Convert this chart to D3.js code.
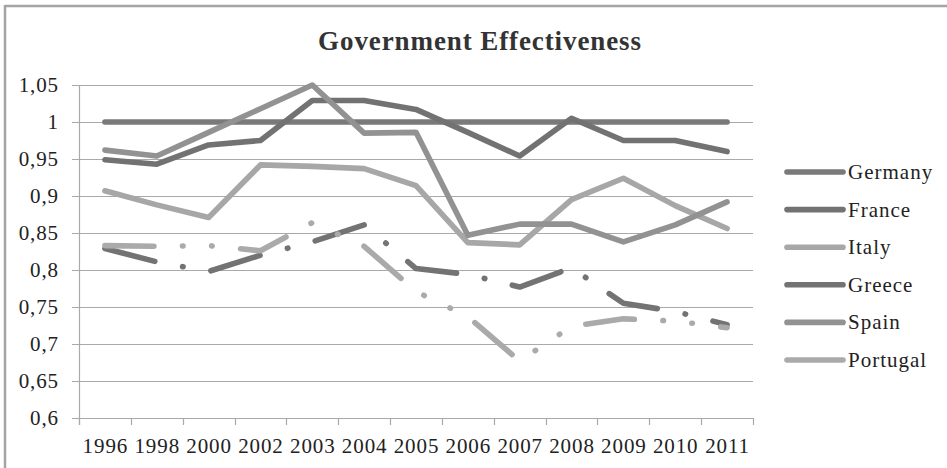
<!DOCTYPE html>
<html>
<head>
<meta charset="utf-8">
<script src="https://cdn.jsdelivr.net/npm/d3@7"></script>
<style>
  html, body { margin: 0; padding: 0; background: #fff; }
  svg { display: block; }
  text { font-family: "Liberation Serif", "Times New Roman", serif; fill: #222; }
</style>
</head>
<body>
<svg id="chart" width="947" height="468"></svg>
<script>
// Government Effectiveness index, selected EU countries
const years = ["1996", "1998", "2000", "2002", "2003", "2004", "2005", "2006", "2007", "2008", "2009", "2010", "2011"];
const germany  = [1, 1, 1, 1, 1, 1, 1, 1, 1, 1, 1, 1, 1];
const france   = [0.949, 0.943, 0.969, 0.975, 1.029, 1.029, 1.017, 0.986, 0.954, 1.005, 0.975, 0.975, 0.960];
const italy    = [0.907, 0.888, 0.871, 0.942, 0.940, 0.937, 0.914, 0.837, 0.834, 0.895, 0.924, 0.887, 0.856];
const greece   = [0.829, 0.811, 0.798, 0.820, 0.838, 0.861, 0.802, 0.794, 0.777, 0.803, 0.755, 0.744, 0.726];
const spain    = [0.962, 0.954, 0.986, 1.018, 1.050, 0.985, 0.986, 0.847, 0.862, 0.862, 0.838, 0.861, 0.892];
const portugal = [0.833, 0.832, 0.833, 0.826, 0.864, 0.832, 0.771, 0.737, 0.677, 0.724, 0.734, 0.731, 0.722];
const yTicks = [0.6, 0.65, 0.7, 0.75, 0.8, 0.85, 0.9, 0.95, 1, 1.05];

const seriesNames = ["Germany", "France", "Italy", "Greece", "Spain", "Portugal"];
const seriesValues = [germany, france, italy, greece, spain, portugal];
const seriesColors = ["#7a7a7a", "#727272", "#a7a7a7", "#737373", "#929292", "#aaaaaa"];
// long dash-dot for Greece, long dash-dot-dot for Portugal
const seriesDash = [null, null, null, "51.5 28.3 0.5 28.3", null, "49 28.6 0.5 28.6 0.5 28.6"];

const svg = d3.select("#chart");

// outer frame (top and left edges)
svg.append("line").attr("x1", 5).attr("x2", 947).attr("y1", 6).attr("y2", 6)
  .attr("stroke", "#a4a4a4").attr("stroke-width", 2.5);
svg.append("line").attr("x1", 5).attr("x2", 5).attr("y1", 5).attr("y2", 468)
  .attr("stroke", "#a4a4a4").attr("stroke-width", 2.5);

const x = d3.scaleBand().domain(years).range([79, 753]).paddingInner(0).paddingOuter(0);
const y = d3.scaleLinear().domain([0.6, 1.05]).range([418, 85]);
const xc = d => x(d) + x.bandwidth() / 2;

const fmt = d3.formatLocale({ decimal: ",", thousands: ".", grouping: [3], currency: ["", ""] }).format(".2~f");

// horizontal gridlines with left tick marks
const grid = svg.append("g");
grid.selectAll("line").data(yTicks).join("line")
  .attr("x1", 72).attr("x2", 753)
  .attr("y1", d => Math.round(y(d)) + 0.5).attr("y2", d => Math.round(y(d)) + 0.5)
  .attr("stroke", "#a9a9a9").attr("stroke-width", 1.2);

// vertical axis line
svg.append("line").attr("x1", 79.5).attr("x2", 79.5).attr("y1", y(1.05)).attr("y2", 425)
  .attr("stroke", "#a9a9a9").attr("stroke-width", 1.2);

// category boundary ticks under the x axis
const bounds = years.map(d => x(d)).concat([x(years[years.length - 1]) + x.bandwidth()]);
svg.append("g").selectAll("line").data(bounds).join("line")
  .attr("x1", d => Math.round(d) + 0.5).attr("x2", d => Math.round(d) + 0.5)
  .attr("y1", 418).attr("y2", 425)
  .attr("stroke", "#a9a9a9").attr("stroke-width", 1.2);

// y tick labels
svg.append("g").selectAll("text").data(yTicks).join("text")
  .attr("x", 59).attr("y", d => y(d))
  .attr("dy", "0.34em")
  .attr("text-anchor", "end")
  .style("font-size", "21px").style("letter-spacing", "0.9px")
  .text(d => fmt(d));

// x tick labels
svg.append("g").selectAll("text").data(years).join("text")
  .attr("x", d => xc(d) + 0.5).attr("y", 453)
  .attr("text-anchor", "middle")
  .style("font-size", "21px").style("letter-spacing", "0.9px")
  .text(d => d);

// title
svg.append("text").attr("x", 480).attr("y", 50)
  .attr("text-anchor", "middle")
  .style("font-size", "27px").style("font-weight", "bold").style("letter-spacing", "0.9px")
  .style("fill", "#333")
  .text("Government Effectiveness");

// series lines
const line = d3.line().x((d, i) => xc(years[i])).y(d => y(d)).curve(d3.curveLinear);
const lines = svg.append("g");
seriesValues.forEach((vals, k) => {
  lines.append("path")
    .attr("d", line(vals))
    .attr("fill", "none")
    .attr("stroke", seriesColors[k])
    .attr("stroke-width", 5.6)
    .attr("stroke-linecap", "round")
    .attr("stroke-linejoin", "round")
    .attr("stroke-dasharray", seriesDash[k]);
});

// legend
const legend = svg.append("g");
seriesNames.forEach((name, k) => {
  const ly = 172 + k * 37.6;
  legend.append("line")
    .attr("x1", 787).attr("x2", 843).attr("y1", ly).attr("y2", ly)
    .attr("stroke", seriesColors[k]).attr("stroke-width", 5.6).attr("stroke-linecap", "round");
  legend.append("text")
    .attr("x", 848).attr("y", ly).attr("dy", "0.33em")
    .style("font-size", "21px").style("letter-spacing", "1px")
    .text(name);
});
</script>
</body>
</html>
